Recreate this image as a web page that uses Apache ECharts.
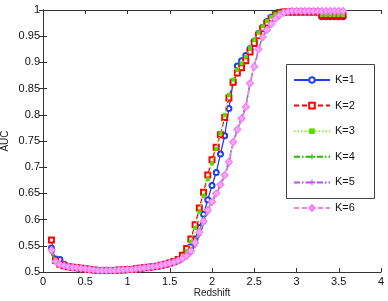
<!DOCTYPE html>
<html>
<head>
<meta charset="utf-8">
<script src="https://cdn.jsdelivr.net/npm/echarts@6/dist/echarts.min.js"></script>
<style>html,body{margin:0;padding:0;background:#fff}#c{width:388px;height:301px}</style>
</head>
<body>
<div id="c"></div>
<script>
// Redshift values (0.10 .. 3.55, step 0.05)
var redshift = [0.10,0.15,0.20,0.25,0.30,0.35,0.40,0.45,0.50,0.55,0.60,0.65,0.70,0.75,0.80,0.85,0.90,0.95,1.00,1.05,1.10,1.15,1.20,1.25,1.30,1.35,1.40,1.45,1.50,1.55,1.60,1.65,
  1.70,1.75,1.80,1.85,1.90,1.95,2.00,2.05,2.10,2.15,2.20,2.25,2.30,2.35,2.40,2.45,2.50,2.55,2.60,2.65,2.70,2.75,2.80,2.85,
  2.90,2.95,3.00,3.05,3.10,3.15,3.20,3.25,3.30,3.35,3.40,3.45,3.50,3.55];

var auc_k1 = [0.546,0.525,0.524,0.515,0.510,0.509,0.508,0.507,0.506,0.505,0.504,0.503,0.503,0.503,0.503,0.503,0.504,0.504,0.505,0.505,0.506,0.507,0.508,0.509,0.510,0.511,0.513,0.515,0.517,0.519,0.522,0.527,
  0.535,0.548,0.563,0.585,0.610,0.638,0.665,0.690,0.725,0.760,0.812,0.862,0.893,0.903,0.913,0.926,0.941,0.955,0.967,0.978,0.986,0.992,0.995,0.996,
  0.996,0.996,0.996,0.996,0.996,0.996,0.996,0.996,0.987,0.987,0.987,0.987,0.987,0.987];
var auc_k2 = [0.561,0.522,0.515,0.512,0.510,0.509,0.508,0.507,0.506,0.505,0.504,0.503,0.503,0.503,0.503,0.503,0.504,0.504,0.505,0.505,0.506,0.507,0.508,0.509,0.510,0.511,0.513,0.515,0.517,0.520,0.524,0.532,
  0.545,0.563,0.590,0.622,0.652,0.685,0.714,0.738,0.762,0.795,0.832,0.862,0.880,0.890,0.903,0.920,0.936,0.951,0.964,0.975,0.984,0.991,0.995,0.996,
  0.996,0.996,0.996,0.996,0.996,0.996,0.996,0.996,0.990,0.990,0.990,0.990,0.990,0.990];
var auc_k3 = [0.540,0.520,0.515,0.512,0.510,0.509,0.508,0.507,0.506,0.505,0.504,0.503,0.503,0.503,0.503,0.503,0.504,0.504,0.505,0.505,0.506,0.507,0.508,0.509,0.510,0.511,0.513,0.515,0.517,0.519,0.523,0.529,
  0.540,0.558,0.584,0.614,0.645,0.677,0.707,0.735,0.764,0.800,0.838,0.867,0.886,0.898,0.911,0.927,0.943,0.957,0.969,0.979,0.987,0.992,0.995,0.997,
  0.997,0.997,0.997,0.997,0.997,0.997,0.997,0.997,0.991,0.991,0.991,0.991,0.991,0.991];
var auc_k4 = [0.535,0.518,0.514,0.512,0.510,0.509,0.508,0.507,0.506,0.505,0.504,0.503,0.503,0.503,0.503,0.503,0.504,0.504,0.505,0.505,0.506,0.507,0.508,0.509,0.510,0.511,0.513,0.515,0.517,0.519,0.522,0.527,
  0.533,0.543,0.560,0.580,0.600,0.620,0.636,0.652,0.669,0.687,0.712,0.750,0.774,0.795,0.817,0.862,0.894,0.926,0.949,0.963,0.974,0.984,0.991,0.995,
  0.997,0.997,0.997,0.997,0.997,0.997,0.997,0.997,0.997,0.997,0.997,0.997,0.997,0.997];
var auc_k5 = [0.540,0.520,0.514,0.512,0.510,0.509,0.508,0.507,0.506,0.505,0.504,0.503,0.503,0.503,0.503,0.503,0.504,0.504,0.505,0.505,0.506,0.507,0.508,0.509,0.510,0.511,0.513,0.515,0.517,0.519,0.521,0.524,
  0.527,0.535,0.550,0.570,0.592,0.613,0.631,0.648,0.665,0.683,0.706,0.746,0.770,0.791,0.813,0.858,0.890,0.923,0.947,0.961,0.972,0.982,0.990,0.995,
  0.997,0.998,0.998,0.998,0.998,0.998,0.998,0.998,0.998,0.998,0.998,0.998,0.998,0.998];
var auc_k6 = [0.542,0.520,0.514,0.512,0.510,0.509,0.508,0.507,0.506,0.505,0.504,0.503,0.503,0.503,0.503,0.503,0.504,0.504,0.505,0.505,0.506,0.507,0.508,0.509,0.510,0.511,0.513,0.515,0.517,0.519,0.522,0.526,
  0.531,0.540,0.556,0.576,0.597,0.618,0.634,0.650,0.667,0.685,0.710,0.748,0.772,0.793,0.815,0.860,0.892,0.925,0.948,0.962,0.973,0.983,0.990,0.995,
  0.997,0.998,0.998,0.998,0.998,0.998,0.998,0.998,0.998,0.998,0.998,0.998,0.998,0.998];

var seriesNames = ['K=1','K=2','K=3','K=4','K=5','K=6'];
var xTicks = {min:0, max:4, interval:0.5};
var yTicks = {min:0.5, max:1, interval:0.05};

function pairs(ys){ return redshift.map(function(x,i){ return [x, ys[i]]; }); }

var FONT = 'Liberation Sans, Arial, sans-serif';
var plusPath = 'path://M4,0h2v4h4v2h-4v4h-2v-4h-4v-2h4z';

var styles = [
  {data:auc_k1, color:'#1f3ff0', type:'solid', symbol:'emptyCircle', size:5, bw:1.5},
  {data:auc_k2, color:'#ff0000', type:[5,3], symbol:'emptyRect', size:5, bw:1.6},
  {data:auc_k3, color:'#88f040', type:[1.5,2], symbol:'rect', size:4, bw:0, fill:'#55dd00'},
  {data:auc_k4, color:'#22b800', type:[6,2,1.5,2], symbol:plusPath, size:4, bw:0},
  {data:auc_k5, color:'#b550ff', type:[6,2,1.5,2], symbol:plusPath, size:5, bw:0},
  {data:auc_k6, color:'#f57df5', type:[5,3], symbol:'diamond', size:7, bw:1.2, fill:'#f8a8f8'}
];

var series = styles.map(function(s, i){
  return {
    name: seriesNames[i],
    type: 'line',
    data: pairs(s.data),
    symbol: s.symbol,
    symbolSize: s.size,
    showAllSymbol: true,
    animation: false,
    lineStyle: {color: s.color, width: 1.3, type: s.type},
    itemStyle: {color: s.fill || s.color, borderColor: s.color, borderWidth: s.bw},
    z: 2 + i
  };
});

var axisLine = {show:true, lineStyle:{color:'#333', width:1}};
var chart = echarts.init(document.getElementById('c'), null, {renderer:'canvas'});
chart.setOption({
  animation: false,
  backgroundColor: '#fff',
  grid: {left:43, right:7, top:10, bottom:29, containLabel:false, outerBoundsMode:'none'},
  xAxis: [
    {type:'value', min:xTicks.min, max:xTicks.max, interval:xTicks.interval,
     name:'Redshift', nameLocation:'middle', nameGap:16, nameMoveOverlap:false,
     nameTextStyle:{fontFamily:FONT, fontSize:10, color:'#222'},
     axisLine:axisLine, splitLine:{show:false},
     axisTick:{show:true, inside:true, length:4, lineStyle:{color:'#333'}},
     axisLabel:{fontFamily:FONT, fontSize:11, color:'#111', margin:4}},
    {type:'value', position:'top', min:xTicks.min, max:xTicks.max, interval:xTicks.interval,
     axisLine:axisLine, splitLine:{show:false},
     axisTick:{show:true, inside:true, length:4, lineStyle:{color:'#333'}},
     axisLabel:{show:false}}
  ],
  yAxis: [
    {type:'value', min:yTicks.min, max:yTicks.max, interval:yTicks.interval,
     name:'AUC', nameLocation:'middle', nameGap:33, nameRotate:90, nameMoveOverlap:false,
     nameTextStyle:{fontFamily:FONT, fontSize:10, color:'#222'},
     axisLine:axisLine, splitLine:{show:false},
     axisTick:{show:true, inside:true, length:4, lineStyle:{color:'#333'}},
     axisLabel:{fontFamily:FONT, fontSize:11, color:'#111', margin:3}},
    {type:'value', position:'right', min:yTicks.min, max:yTicks.max, interval:yTicks.interval,
     axisLine:axisLine, splitLine:{show:false},
     axisTick:{show:true, inside:true, length:4, lineStyle:{color:'#333'}},
     axisLabel:{show:false}}
  ],
  graphic: [
    {type:'rect', z:50, shape:{x:286.5, y:64.5, width:88, height:134},
     style:{fill:'#fff', stroke:'#444', lineWidth:1}}
  ],
  legend: {
    z: 60,
    orient: 'vertical',
    left: 293, top: 74.5,
    padding: 0,
    itemWidth: 36, itemHeight: 7, itemGap: 14.6,
    textStyle: {fontFamily:FONT, fontSize:11, color:'#111'},
    data: seriesNames
  },
  series: series
});
</script>
</body>
</html>
